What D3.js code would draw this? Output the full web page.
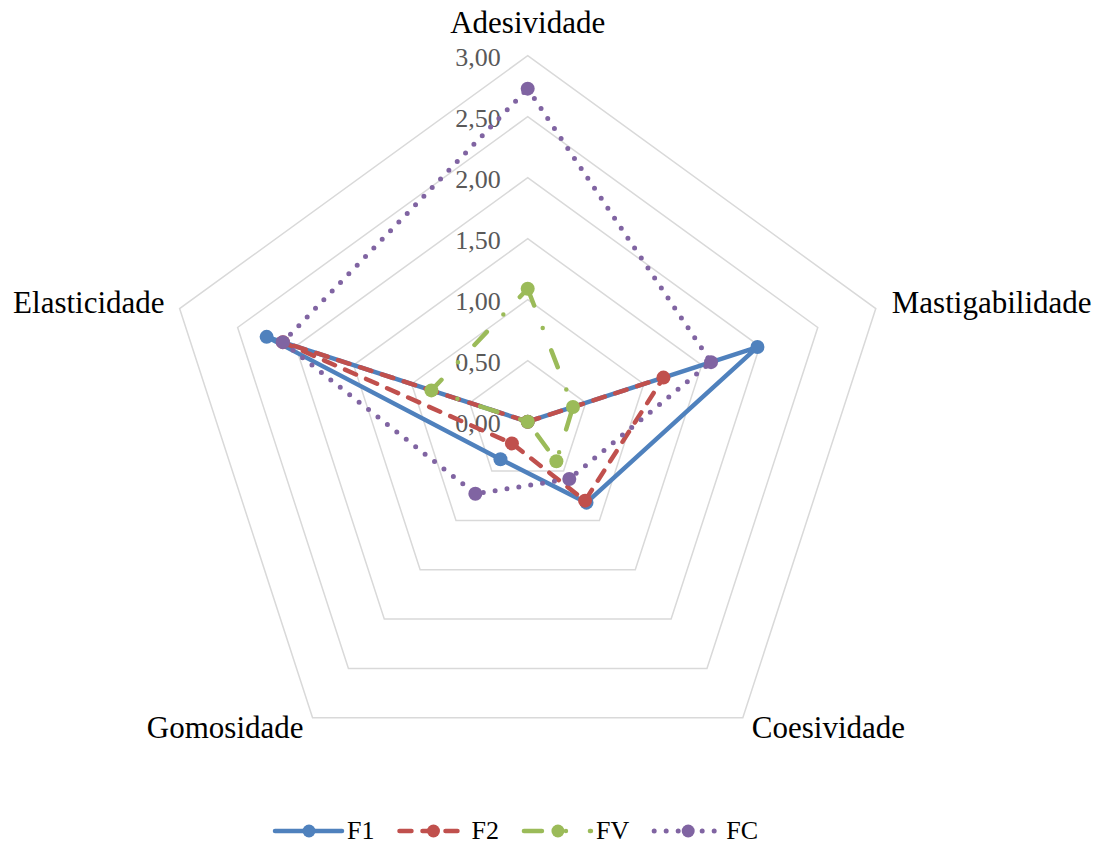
<!DOCTYPE html>
<html>
<head>
<meta charset="utf-8">
<script src="https://cdn.jsdelivr.net/npm/d3@7"></script>
<style>
  html, body { margin: 0; padding: 0; background: #fff; }
  svg { display: block; }
</style>
</head>
<body>
<svg id="chart" width="1104" height="844"></svg>
<script>
// Texture profile attributes (radar axes, clockwise from top)
const attributes = ["Adesividade", "Mastigabilidade", "Coesividade", "Gomosidade", "Elasticidade"];

// Measured values per formulation
const seriesF1 = [0.00, 1.98, 0.82, 0.38, 2.25];
const seriesF2 = [0.00, 1.17, 0.80, 0.22, 2.11];
const seriesFV = [1.09, 0.39, 0.40, 0.00, 0.83];
const seriesFC = [2.73, 1.58, 0.58, 0.73, 2.11];

const seriesNames = ["F1", "F2", "FV", "FC"];
const tickValues = [0, 0.5, 1.0, 1.5, 2.0, 2.5, 3.0];
const tickLabels = ["0,00", "0,50", "1,00", "1,50", "2,00", "2,50", "3,00"];

const series = [
  { name: seriesNames[0], values: seriesF1, color: "#4F81BD", dash: null },
  { name: seriesNames[1], values: seriesF2, color: "#C0504D", dash: "12,11" },
  { name: seriesNames[2], values: seriesFV, color: "#9BBB59", dash: "18,24,0,24" },
  { name: seriesNames[3], values: seriesFC, color: "#8064A2", dash: "0,12" }
];

const svg = d3.select("#chart");
const cx = 527.7, cy = 421.7;
const font = "'Liberation Serif', 'Times New Roman', serif";

const r = d3.scaleLinear().domain([0, 3]).range([0, 366]);
const angle = d3.scalePoint().domain(attributes).range([0, 2 * Math.PI * 4 / 5]);

function pt(attr, v) {
  const a = angle(attr);
  return [cx + r(v) * Math.sin(a), cy - r(v) * Math.cos(a)];
}

const g = svg.append("g");

// Grid rings (pentagons)
g.selectAll("path.ring")
  .data(tickValues.filter(v => v > 0))
  .join("path")
  .attr("class", "ring")
  .attr("d", v => d3.line()(attributes.map(a => pt(a, v))) + "Z")
  .attr("fill", "none")
  .attr("stroke", "#D9D9D9")
  .attr("stroke-width", 1.5);

// Value axis labels along the top spoke
g.selectAll("text.tick")
  .data(tickValues)
  .join("text")
  .attr("class", "tick")
  .attr("x", cx - 27)
  .attr("y", (v) => pt(attributes[0], v)[1] + 10)
  .attr("text-anchor", "end")
  .attr("font-family", font)
  .attr("font-size", 26)
  .attr("fill", "#595959")
  .text((v, i) => tickLabels[i]);

// Category labels around the outer ring
const rMax = 3;
const labelPlacement = {
  "Adesividade":     { dx: 0,   dy: -23, anchor: "middle" },
  "Mastigabilidade": { dx: 16,  dy: 4.5, anchor: "start" },
  "Coesividade":     { dx: 9,   dy: 20,  anchor: "start" },
  "Gomosidade":      { dx: -9,  dy: 20,  anchor: "end" },
  "Elasticidade":    { dx: -15, dy: 4.5, anchor: "end" }
};
g.selectAll("text.cat")
  .data(attributes)
  .join("text")
  .attr("class", "cat")
  .attr("x", a => pt(a, rMax)[0] + labelPlacement[a].dx)
  .attr("y", a => pt(a, rMax)[1] + labelPlacement[a].dy)
  .attr("text-anchor", a => labelPlacement[a].anchor)
  .attr("font-family", font)
  .attr("font-size", 31)
  .attr("fill", "#000")
  .text(a => a);

// Series lines and markers
const line = d3.line();
series.forEach(s => {
  const pts = attributes.map((a, i) => pt(a, s.values[i]));
  const sg = g.append("g");
  sg.append("path")
    .attr("d", line(pts) + "Z")
    .attr("fill", "none")
    .attr("stroke", s.color)
    .attr("stroke-width", s.name === "FC" ? 5 : 4.5)
    .attr("stroke-linecap", s.dash ? "round" : "butt")
    .attr("stroke-linejoin", "round")
    .attr("stroke-dasharray", s.dash);
  sg.selectAll("circle")
    .data(pts)
    .join("circle")
    .attr("cx", d => d[0])
    .attr("cy", d => d[1])
    .attr("r", 7)
    .attr("fill", s.color);
});

// Legend
const legend = svg.append("g");
const legendY = 831;
let lx = 275;
series.forEach(s => {
  const lg = legend.append("g");
  lg.append("line")
    .attr("x1", lx).attr("x2", lx + 67)
    .attr("y1", legendY).attr("y2", legendY)
    .attr("stroke", s.color)
    .attr("stroke-width", s.name === "FC" ? 5 : 4.5)
    .attr("stroke-linecap", "round")
    .attr("stroke-dasharray", s.dash);
  lg.append("circle")
    .attr("cx", lx + 34).attr("cy", legendY)
    .attr("r", 6.5)
    .attr("fill", s.color);
  const t = lg.append("text")
    .attr("x", lx + 72)
    .attr("y", legendY + 8)
    .attr("font-family", font)
    .attr("font-size", 26)
    .attr("fill", "#000")
    .text(s.name);
  lx += 72 + t.node().getComputedTextLength() + 25;
});
</script>
</body>
</html>
